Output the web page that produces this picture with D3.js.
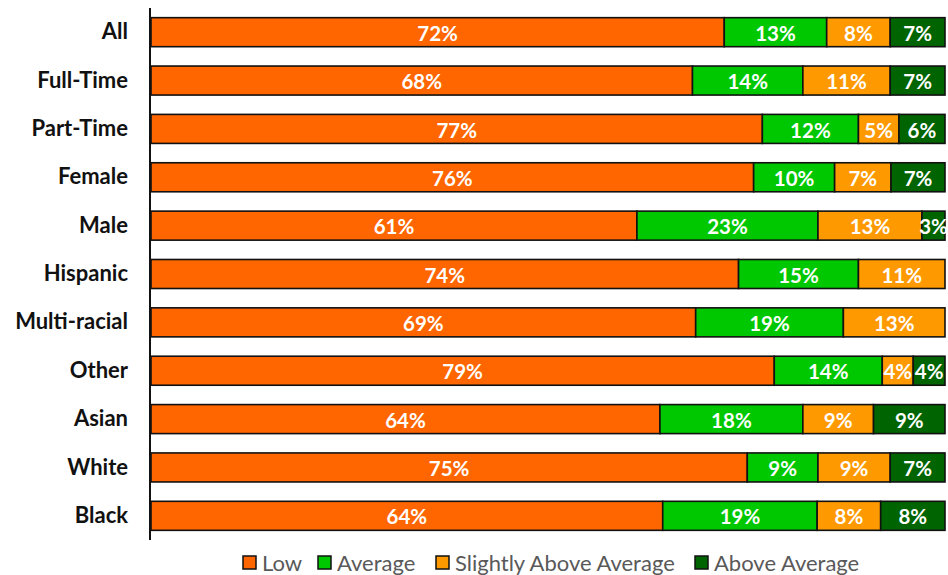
<!DOCTYPE html>
<html>
<head>
<meta charset="utf-8">
<script src="https://cdn.jsdelivr.net/npm/d3@7"></script>
<style>
  html, body { margin: 0; padding: 0; background: #fff; }
  svg { display: block; font-family: Lato, "Open Sans", sans-serif; }
</style>
</head>
<body>
<svg id="chart" width="948" height="575"></svg>
<script>
// Groups, top to bottom
const categories = ["All", "Full-Time", "Part-Time", "Female", "Male", "Hispanic",
  "Multi-racial", "Other", "Asian", "White", "Black"];

// Rating levels and their colours
const levels = ["Low", "Average", "Slightly Above Average", "Above Average"];
const levelColors = ["#FF6600", "#00C800", "#FF9900", "#006400"];

// Share of each group per rating level (percent)
const low          = [72.2, 68.2, 77.0, 75.9, 61.2, 74.0, 68.6, 78.5, 64.1, 75.1, 64.45];
const average      = [12.9, 13.9, 12.1, 10.2, 22.8, 15.1, 18.6, 13.6, 18.0, 8.9, 19.45];
const slightlyAbove= [8.0, 11.0, 5.1, 7.1, 13.1, 10.9, 12.8, 3.9, 8.9, 9.1, 8.0];
const aboveAverage = [6.9, 6.9, 5.8, 6.8, 2.9, 0, 0, 4.0, 9.0, 6.9, 8.1];

const series = [low, average, slightlyAbove, aboveAverage];

const svg = d3.select("#chart");

const x = d3.scaleLinear().domain([0, 100]).range([151, 945]);
const y = d3.scaleBand().domain(categories).range([8, 540])
  .paddingInner(0.4).paddingOuter(0.2);

// Rows for stacking
const rows = categories.map((c, i) => {
  const r = { category: c };
  levels.forEach((l, j) => { r[l] = series[j][i]; });
  return r;
});
const stacked = d3.stack().keys(levels)(rows);

// Whole-percent label for a segment value
const fmt = v => Math.round(+v.toFixed(4)) + "%";

const layers = svg.append("g").selectAll("g")
  .data(stacked)
  .join("g")
  .attr("fill", (d, i) => levelColors[i]);

layers.selectAll("rect")
  .data(d => d.filter(p => p[1] - p[0] > 0))
  .join("rect")
  .attr("x", d => x(d[0]))
  .attr("y", d => y(d.data.category))
  .attr("width", d => x(d[1]) - x(d[0]))
  .attr("height", y.bandwidth())
  .attr("stroke", "#111")
  .attr("stroke-width", 1.6);

// Value labels centred in each segment
const labels = svg.append("g");
stacked.forEach((layer, j) => {
  labels.selectAll(null)
    .data(layer.filter(p => p[1] - p[0] > 0))
    .join("text")
    .attr("x", d => (x(d[0]) + x(d[1])) / 2)
    .attr("y", d => y(d.data.category) + y.bandwidth() / 2)
    .attr("dy", "0.42em")
    .attr("text-anchor", "middle")
    .attr("fill", "#fff")
    .attr("font-weight", 700)
    .attr("font-size", 20.5)
    .text(d => fmt(d.data[levels[j]]));
});

// Category axis
const yAxis = svg.append("g")
  .attr("transform", "translate(150,0)")
  .call(d3.axisLeft(y).tickSize(0).tickPadding(22));
yAxis.select(".domain").remove();
yAxis.selectAll("text")
  .attr("font-family", "Lato, 'Open Sans', sans-serif")
  .attr("font-size", 22)
  .attr("font-weight", 700)
  .attr("fill", "#111");

svg.append("line")
  .attr("x1", 150).attr("x2", 150)
  .attr("y1", 8).attr("y2", 540)
  .attr("stroke", "#111")
  .attr("stroke-width", 2);

// Legend
const legendX = [243, 318, 436, 695];
const legend = svg.append("g").selectAll("g")
  .data(levels)
  .join("g")
  .attr("transform", (d, i) => `translate(${legendX[i]},556)`);
legend.append("rect")
  .attr("width", 13).attr("height", 13)
  .attr("fill", (d, i) => levelColors[i])
  .attr("stroke", "#111").attr("stroke-width", 1.5);
legend.append("text")
  .attr("x", 19).attr("y", 6.5).attr("dy", "0.38em")
  .attr("font-size", 22)
  .attr("fill", "#595959")
  .text(d => d);
</script>
</body>
</html>
